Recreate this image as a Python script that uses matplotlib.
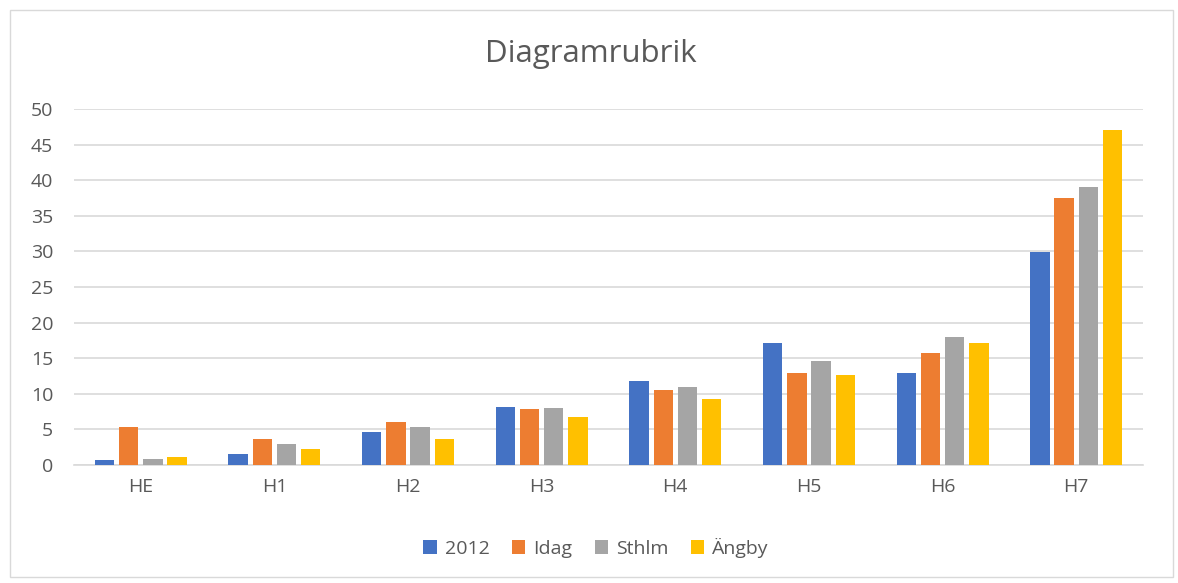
import numpy as np
import matplotlib.pyplot as plt
from matplotlib.patches import Rectangle

categories = ['HE', 'H1', 'H2', 'H3', 'H4', 'H5', 'H6', 'H7']
series_names = ['2012', 'Idag', 'Sthlm', 'Ängby']
v2012 = [0.7, 1.6, 4.6, 8.1, 11.8, 17.1, 12.9, 29.9]
vidag = [5.4, 3.7, 6.1, 7.9, 10.5, 12.9, 15.7, 37.5]
vsthlm = [0.9, 3.0, 5.4, 8.0, 11.0, 14.6, 18.0, 39.0]
vangby = [1.1, 2.3, 3.7, 6.8, 9.2, 12.6, 17.1, 47.0]
colors = ['#4472C4', '#ED7D31', '#A5A5A5', '#FFC000']

plt.rcParams['font.family'] = ['Open Sans', 'DejaVu Sans']
txt = '#595959'

fig = plt.figure(figsize=(11.78, 5.83), dpi=100)
ax = fig.add_axes([74/1178, 1 - 465/583, 1069/1178, 356/583])

x = np.arange(len(categories))
step = 0.181
all_vals = [v2012, vidag, vsthlm, vangby]
for i, (vals, name, c) in enumerate(zip(all_vals, series_names, colors)):
    ax.bar(x + (i - 1.5) * step, vals, width=0.145, color=c, label=name, zorder=3)

ax.set_xlim(-0.5, len(categories) - 0.5)
ax.set_ylim(0, 50)
ax.set_yticks(range(0, 51, 5))
ax.set_xticks(x)
ax.set_xticklabels(categories)
ax.grid(axis='y', color='#D9D9D9', linewidth=1.2, zorder=0)
for s in ['top', 'right', 'left']:
    ax.spines[s].set_visible(False)
ax.spines['bottom'].set_color('#D9D9D9')
ax.spines['bottom'].set_linewidth(1.2)
ax.tick_params(length=0, labelsize=14, colors=txt, pad=9)
ax.tick_params(axis='y', pad=15)

fig.text(591/1178, 1 - 54/583, 'Diagramrubrik', ha='center', va='center', fontsize=22.5, color=txt)

leg = fig.legend(loc='center', bbox_to_anchor=(596/1178, 1 - 548/583), ncol=4, frameon=False,
                 fontsize=14, handlelength=0.7, handleheight=0.7, handletextpad=0.4,
                 columnspacing=1.15, labelcolor=txt)

fig.patches.append(Rectangle((10/1178, 1 - 577/583), 1163/1178, 567/583, transform=fig.transFigure,
                             fill=False, edgecolor='#D9D9D9', linewidth=1))

fig.savefig('out.png', dpi=100)
